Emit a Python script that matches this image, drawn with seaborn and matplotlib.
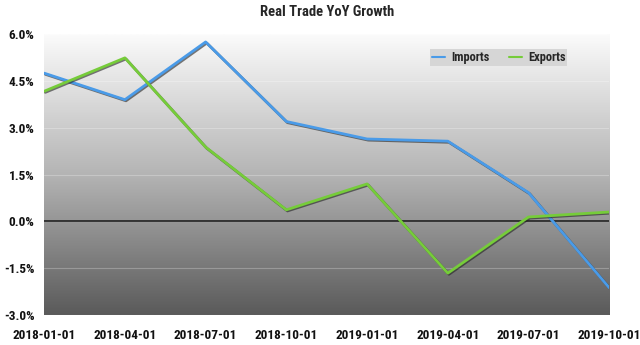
import numpy as np
import pandas as pd
import matplotlib
matplotlib.use("Agg")
import matplotlib.pyplot as plt
import matplotlib.patheffects as pe
from matplotlib.ticker import FuncFormatter
from matplotlib.lines import Line2D
import seaborn as sns

dates = ["2018-01-01", "2018-04-01", "2018-07-01", "2018-10-01",
         "2019-01-01", "2019-04-01", "2019-07-01", "2019-10-01"]
imports = [4.75, 3.9, 5.75, 3.2, 2.64, 2.57, 0.92, -2.13]
exports = [4.17, 5.24, 2.38, 0.37, 1.2, -1.66, 0.14, 0.3]
yticks = [-3.0, -1.5, 0.0, 1.5, 3.0, 4.5, 6.0]

sns.set_theme(style="white")
plt.rcParams['font.family'] = ['Roboto Condensed', 'DejaVu Sans']

df = pd.DataFrame({
    "date": dates * 2,
    "value": imports + exports,
    "series": ["Imports"] * len(dates) + ["Exports"] * len(dates),
})
df["x"] = list(range(len(dates))) * 2

fig = plt.figure(figsize=(6.4, 3.45), dpi=100)
ax = fig.add_axes([0.069, 0.087, 0.883, 0.814])

# gradient background
grad = np.linspace(0, 1, 256).reshape(-1, 1)
cmap = matplotlib.colors.LinearSegmentedColormap.from_list(
    "bg", ["#fbfbfb", "#b4b4b4", "#5a5a5a"])
ax.imshow(grad, extent=[0, 1, 0, 1], transform=ax.transAxes, aspect="auto",
          cmap=cmap, zorder=0, origin="upper")

for y in yticks:
    ax.axhline(y, color="white", alpha=0.25, lw=0.8, zorder=1)
ax.axhline(0, color="#222222", lw=1.2, zorder=2)

palette = {"Imports": "#4a9be8", "Exports": "#76cc3a"}
sns.lineplot(data=df, x="x", y="value", hue="series", palette=palette,
             ax=ax, lw=2, zorder=3, legend=False)
for line in ax.get_lines()[-2:]:
    line.set_path_effects([pe.SimpleLineShadow(offset=(0.8, -0.8), shadow_color="#222222", alpha=0.6),
                           pe.Normal()])

ax.set_xlim(0, len(dates) - 1)
ax.set_ylim(-3.0, 6.0)
ax.set_yticks(yticks)
ax.yaxis.set_major_formatter(FuncFormatter(lambda v, p: f"{v:.1f}%"))
ax.set_xticks(range(len(dates)))
ax.set_xticklabels(dates)
ax.set_xlabel("")
ax.set_ylabel("")
for lab in ax.get_xticklabels() + ax.get_yticklabels():
    lab.set_fontweight("bold")
    lab.set_fontsize(9.5)
    lab.set_color("#111111")
ax.tick_params(axis="x", length=0, pad=10)
ax.tick_params(axis="y", length=0, pad=7)
for s in ax.spines.values():
    s.set_visible(False)

ax.set_title("Real Trade YoY Growth", fontsize=10.5, fontweight="bold", pad=13)

handles = [Line2D([0], [0], color=palette["Imports"], lw=1.5),
           Line2D([0], [0], color=palette["Exports"], lw=1.5)]
leg = ax.legend(handles, ["Imports", "Exports"], ncol=2, loc="upper right",
                bbox_to_anchor=(0.926, 0.947), borderaxespad=0, frameon=True, fancybox=False,
                fontsize=9, handlelength=1.0, handletextpad=0.5, columnspacing=1.6,
                borderpad=0.15)
leg.get_frame().set_facecolor("#d6d6d6")
leg.get_frame().set_edgecolor("none")
leg.get_frame().set_alpha(1)
for t in leg.get_texts():
    t.set_fontweight("bold")

fig.savefig("out.png", dpi=100)
